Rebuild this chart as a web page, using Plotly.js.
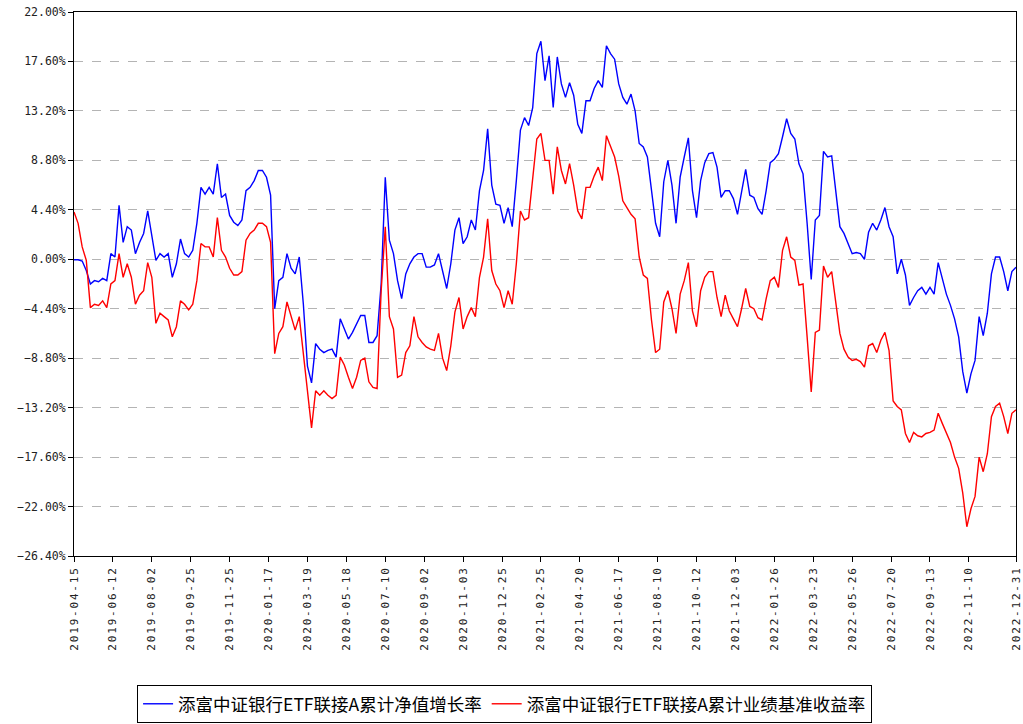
<!DOCTYPE html>
<html>
<head>
<meta charset="utf-8">
<script src="https://cdn.plot.ly/plotly-3.0.1.min.js"></script>
<style>
  html, body { margin: 0; padding: 0; background: #fff; }
  #chart { width: 1023px; height: 724px; }
  .xtick text { letter-spacing: 1.8px; }
</style>
</head>
<body>
<div id="chart"></div>
<script>
// Tick labels (trading-day index of each labelled date)
const tickLabels = ['2019-04-15','2019-06-12','2019-08-02','2019-09-25','2019-11-25','2020-01-17',
  '2020-03-19','2020-05-18','2020-07-10','2020-09-02','2020-11-03','2020-12-25','2021-02-25',
  '2021-04-20','2021-06-17','2021-08-10','2021-10-12','2021-12-03','2022-01-26','2022-03-23',
  '2022-05-26','2022-07-20','2022-09-13','2022-11-10','2022-12-31'];
const tickDayIndex = [0,38,76,114,152,190,228,266,304,342,380,418,456,494,532,570,608,646,684,722,760,798,836,874,920];

// Series names
const seriesNames = ['添富中证银行ETF联接A累计净值增长率', '添富中证银行ETF联接A累计业绩基准收益率'];

// Cumulative NAV growth (%), one reading every 4 trading days
const navGrowth = [
  -0.04,-0.04,-0.16,-1.0,-2.2,-1.9,-2.0,-1.7,-1.9,0.5,0.2,4.8,1.5,2.9,2.6,0.5,1.5,2.3,4.3,2.0,-0.1,0.5,0.2,0.5,-1.6,-0.4,1.8,
  0.5,0.2,0.8,3.2,6.4,5.8,6.4,5.8,8.5,5.5,5.8,3.9,3.3,3.0,3.5,6.1,6.4,7.0,7.9,7.9,7.3,5.7,-4.4,-1.9,-1.6,
  0.5,-0.8,-1.3,0.2,-4.0,-9.5,-11.0,-7.5,-8.0,-8.3,-8.1,-8.0,-8.7,-5.3,-6.2,-7.1,-6.5,-5.7,-5.0,-5.0,-7.4,-7.4,-6.8,-2.2,7.3,1.7,
  0.5,-1.9,-3.5,-1.3,-0.4,0.2,0.5,0.5,-0.7,-0.7,-0.5,0.5,-1.1,-2.6,-0.4,2.6,3.7,1.4,2.0,3.5,2.6,6.1,7.9,11.6,6.6,4.9,
  4.8,3.2,4.6,2.9,7.0,11.5,12.6,11.9,13.5,18.3,19.4,15.9,18.1,13.5,18.0,15.6,14.4,15.7,14.6,12.0,11.2,14.1,14.1,15.2,15.9,
  15.3,19.0,18.3,17.8,15.6,14.4,13.8,14.7,13.2,10.3,10.0,9.1,6.1,3.2,2.0,6.9,8.8,6.6,3.2,7.3,9.1,10.8,6.1,3.7,7.0,8.6,
  9.4,9.5,8.2,5.5,6.1,6.1,5.4,4.0,6.0,8.0,5.7,5.5,4.5,4.0,6.1,8.6,8.9,9.4,10.9,12.5,11.2,10.7,8.5,7.6,3.2,
  -1.8,3.5,3.9,9.6,9.1,9.2,5.8,2.9,2.3,1.4,0.5,0.6,0.5,0.0,2.4,3.2,2.6,3.5,4.6,2.9,2.0,-1.3,0.0,-1.4,-4.1,-3.4,
  -2.8,-2.5,-3.1,-2.5,-3.1,-0.3,-1.7,-3.1,-4.1,-5.3,-6.9,-10.0,-11.9,-10.2,-9.0,-5.1,-6.8,-4.8,-1.3,0.2,0.2,-1.1,-2.8,-1.1,-0.7
];

// Cumulative benchmark return (%), same readings
const benchReturn = [
  4.2,3.2,1.1,-0.1,-4.3,-4.0,-4.1,-3.7,-4.3,-2.2,-1.9,0.5,-1.6,-0.4,-1.6,-4.0,-3.2,-2.8,-0.3,-1.6,-5.7,-4.8,-5.1,-5.4,-6.9,-6.0,-3.7,
  -4.0,-4.5,-4.0,-1.9,1.4,1.1,1.1,0.2,3.7,0.8,0.2,-0.8,-1.4,-1.4,-1.1,1.7,2.3,2.6,3.2,3.2,2.9,1.5,-8.4,-6.6,-6.0,
  -3.8,-5.1,-6.3,-5.1,-8.4,-11.7,-15.0,-11.7,-12.1,-11.7,-12.1,-12.4,-12.1,-8.7,-9.4,-10.5,-11.5,-10.5,-9.0,-8.8,-10.9,-11.4,-11.5,-2.8,2.9,-5.1,
  -6.2,-10.5,-10.3,-8.3,-7.7,-5.1,-6.9,-7.4,-7.8,-8.0,-8.1,-6.6,-8.8,-9.9,-7.7,-4.7,-3.4,-6.2,-5.1,-4.3,-5.1,-1.6,0.2,3.6,-1.0,-2.2,
  -2.8,-4.3,-2.8,-4.0,-0.4,4.3,3.5,3.7,7.0,10.7,11.2,8.8,8.8,5.8,10.0,7.9,6.7,8.5,6.6,4.3,3.6,6.4,6.4,7.4,8.2,
  7.0,11.0,10.0,9.1,7.4,5.2,4.6,4.0,3.6,0.2,-1.4,-1.7,-5.4,-8.3,-8.0,-3.8,-2.8,-4.4,-6.6,-3.1,-1.9,-0.3,-4.6,-6.0,-2.8,-1.6,
  -1.1,-1.1,-3.4,-5.1,-3.2,-4.6,-5.3,-6.0,-4.4,-2.6,-4.2,-4.4,-5.2,-5.4,-3.5,-1.9,-1.6,-2.5,0.8,2.0,0.2,-0.1,-2.3,-2.2,-6.9,
  -11.8,-6.5,-6.3,-0.6,-1.6,-1.1,-4.1,-6.6,-8.0,-8.7,-9.0,-8.9,-9.1,-9.6,-7.7,-7.5,-8.3,-7.2,-6.5,-8.1,-12.6,-13.1,-13.4,-15.5,-16.3,-15.4,
  -15.7,-15.8,-15.5,-15.4,-15.2,-13.7,-14.6,-15.5,-16.3,-17.6,-18.6,-20.8,-23.8,-22.2,-21.1,-17.6,-18.9,-17.3,-14.0,-13.1,-12.8,-14.0,-15.5,-13.7,-13.4
];

// Trading-day index of each reading (every 4th trading day)
const sampleDay = navGrowth.map((_, i) => i * 4);

const traces = [
  { x: sampleDay, y: navGrowth, name: seriesNames[0], type: 'scatter', mode: 'lines',
    line: { color: '#0000ff', width: 1.4 } },
  { x: sampleDay, y: benchReturn, name: seriesNames[1], type: 'scatter', mode: 'lines',
    line: { color: '#ff0000', width: 1.4 } }
];

const layout = {
  width: 1023, height: 724,
  margin: { l: 74, r: 7, t: 12, b: 168 },
  paper_bgcolor: '#fff', plot_bgcolor: '#fff',
  showlegend: true,
  legend: {
    orientation: 'h', xref: 'container', yref: 'container',
    x: 0.134, y: 0.054, xanchor: 'left', yanchor: 'top',
    bordercolor: '#000', borderwidth: 1, bgcolor: '#fff',
    font: { family: 'Noto Sans CJK SC, sans-serif', size: 17.5, color: '#000' },
    itemwidth: 30, tracegroupgap: 0
  },
  xaxis: {
    range: [0, 920], tickmode: 'array', tickvals: tickDayIndex, ticktext: tickLabels,
    tickangle: -90, ticks: 'outside', ticklen: 5, tickcolor: '#000',
    showline: true, linecolor: '#000', linewidth: 1, mirror: true,
    showgrid: false, zeroline: false,
    tickfont: { family: 'DejaVu Sans Mono, monospace', size: 11, color: '#222' }
  },
  yaxis: {
    range: [-26.4, 22], tick0: 0, dtick: 4.4, tickformat: '.2f', ticksuffix: '%',
    ticks: 'outside', ticklen: 5, tickcolor: '#000',
    showline: true, linecolor: '#000', linewidth: 1, mirror: true,
    showgrid: true, gridcolor: '#b4b4b4', griddash: 'dash', gridwidth: 1,
    zeroline: false,
    tickfont: { family: 'DejaVu Sans Mono, monospace', size: 11.5, color: '#222' }
  }
};

Plotly.newPlot('chart', traces, layout, { staticPlot: true, displayModeBar: false });
</script>
</body>
</html>
